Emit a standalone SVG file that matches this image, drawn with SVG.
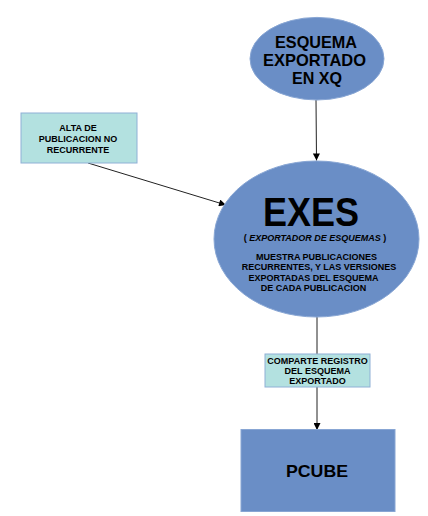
<svg xmlns="http://www.w3.org/2000/svg" width="428" height="516" viewBox="0 0 428 516">
<defs>
<marker id="arr" viewBox="0 0 10 10" refX="10" refY="5" markerWidth="8" markerHeight="7" markerUnits="userSpaceOnUse" orient="auto">
<path d="M0,0 L10,5 L0,10 z" fill="#000"/>
</marker>
</defs>
<style>
.blue{fill:#6a8ec6;stroke:#88a6d4;stroke-width:1}
.cyan{fill:#b3e1e0;stroke:#8fb0d6;stroke-width:1}
.t{font-family:"Liberation Sans",Arial,sans-serif;font-weight:bold;fill:#000;text-anchor:middle}
.s{font-size:9px}
.m{font-size:17px}
.edge{stroke:#222;stroke-width:1;fill:none;marker-end:url(#arr)}
</style>
<rect width="428" height="516" fill="#fff"/>
<g id="connectors">
<line class="edge" x1="316" y1="100" x2="316.5" y2="160.5"/>
<line class="edge" x1="88" y1="163" x2="226" y2="205"/>
<line class="edge" x1="317" y1="317" x2="317" y2="430"/>
</g>
<g id="esquema">
<ellipse class="blue" cx="317" cy="58.7" rx="67" ry="41.3"/>
<text class="t m" x="316" y="48.3" textLength="82" lengthAdjust="spacingAndGlyphs">ESQUEMA</text>
<text class="t m" x="314.5" y="66" textLength="103" lengthAdjust="spacingAndGlyphs">EXPORTADO</text>
<text class="t m" x="317" y="84" textLength="50" lengthAdjust="spacingAndGlyphs">EN XQ</text>
</g>
<g id="alta">
<rect class="cyan" x="21" y="113" width="116" height="50"/>
<text class="t s" x="78" y="130.5">ALTA DE</text>
<text class="t s" x="78" y="141.5">PUBLICACION NO</text>
<text class="t s" x="78" y="152.5">RECURRENTE</text>
</g>
<g id="exes">
<ellipse class="blue" cx="316.5" cy="239" rx="102.5" ry="78"/>
<text class="t" x="311" y="226" font-size="40" textLength="96" lengthAdjust="spacingAndGlyphs">EXES</text>
<text class="t s" x="315" y="241">( <tspan font-style="italic">EXPORTADOR DE ESQUEMAS</tspan> )</text>
<text class="t s" x="316.5" y="259.5">MUESTRA PUBLICACIONES</text>
<text class="t s" x="319" y="270">RECURRENTES, Y LAS VERSIONES</text>
<text class="t s" x="313.5" y="280.5">EXPORTADAS DEL ESQUEMA</text>
<text class="t s" x="313.5" y="291">DE CADA PUBLICACION</text>
</g>
<g id="comparte">
<rect class="cyan" x="265" y="354" width="105" height="33"/>
<text class="t s" x="317.5" y="364">COMPARTE REGISTRO</text>
<text class="t s" x="317.5" y="374">DEL ESQUEMA</text>
<text class="t s" x="317.5" y="384">EXPORTADO</text>
</g>
<g id="pcube">
<rect class="blue" x="241" y="429.5" width="154" height="82"/>
<text class="t m" x="317" y="477" font-size="18" textLength="62" lengthAdjust="spacingAndGlyphs">PCUBE</text>
</g>
</svg>
